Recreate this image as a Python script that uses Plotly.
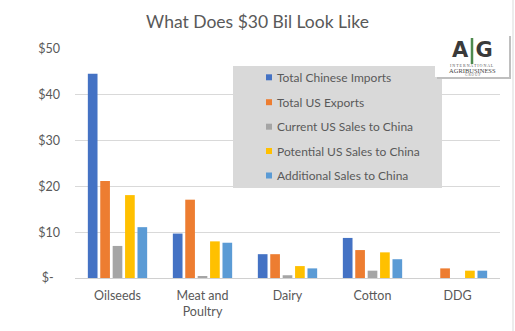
import plotly.graph_objects as go

categories = ["Oilseeds", "Meat and<br>Poultry", "Dairy", "Cotton", "DDG"]
series_names = ["Total Chinese Imports", "Total US Exports", "Current US Sales to China",
                "Potential US Sales to China", "Additional Sales to China"]
total_chinese_imports = [44.6, 9.7, 5.2, 8.75, 0]
total_us_exports = [21.2, 17.1, 5.2, 6.1, 2.1]
current_us_sales = [7.0, 0.4, 0.6, 1.6, 0]
potential_us_sales = [18.1, 8.0, 2.6, 5.6, 1.6]
additional_sales = [11.1, 7.7, 2.1, 4.1, 1.6]
series_values = [total_chinese_imports, total_us_exports, current_us_sales,
                 potential_us_sales, additional_sales]
colors = ["#4472C4", "#ED7D31", "#A5A5A5", "#FFC000", "#5B9BD5"]
y_ticks = [0, 10, 20, 30, 40, 50]
y_ticklabels = ["$-  ", "$10", "$20", "$30", "$40", "$50"]

W, H = 515, 331
L, R, T, B = 75, 500, 49, 278

def px_x(p):
    return (p - L) / (R - L)

def px_y(p):
    return (B - p) / (B - T)

fig = go.Figure()
for name, vals, c in zip(series_names, series_values, colors):
    fig.add_trace(go.Bar(x=categories, y=vals, name=name, marker_color=c,
                         marker_line_width=0, showlegend=False))

font_family = "Lato, 'Open Sans', sans-serif"
shapes = []
annotations = []

# legend box
shapes.append(dict(type="rect", xref="paper", yref="paper",
                   x0=px_x(233), x1=px_x(442), y0=px_y(188), y1=px_y(66),
                   fillcolor="#D9D9D9", line_width=0, layer="above"))
leg_y = [77.3, 102.2, 126.7, 151.0, 175.5]
for name, c, yy in zip(series_names, colors, leg_y):
    shapes.append(dict(type="rect", xref="paper", yref="paper",
                       x0=px_x(266), x1=px_x(272), y0=px_y(yy + 3), y1=px_y(yy - 3),
                       fillcolor=c, line_width=0, layer="above"))
    annotations.append(dict(text=name, xref="paper", yref="paper", x=px_x(275), y=px_y(yy),
                            xanchor="left", yanchor="middle", showarrow=False,
                            font=dict(family=font_family, size=12, color="#595959")))

# right border line
shapes.append(dict(type="line", xref="paper", yref="paper",
                   x0=px_x(513), x1=px_x(513), y0=px_y(331), y1=px_y(0),
                   line=dict(color="#D9D9D9", width=1)))

# logo
shapes.append(dict(type="rect", xref="paper", yref="paper",
                   x0=px_x(437), x1=px_x(511), y0=px_y(79), y1=px_y(36),
                   fillcolor="#BFBFBF", line_width=0, layer="above"))
shapes.append(dict(type="rect", xref="paper", yref="paper",
                   x0=px_x(435), x1=px_x(509), y0=px_y(77), y1=px_y(34),
                   fillcolor="white", line_width=0, layer="above"))
annotations.append(dict(text="<b>A G</b>", xref="paper", yref="paper", x=px_x(472), y=px_y(50),
                        xanchor="center", yanchor="middle", showarrow=False,
                        font=dict(family="DejaVu Sans", size=21, color="#3A3A3A")))
shapes.append(dict(type="line", xref="paper", yref="paper",
                   x0=px_x(472), x1=px_x(472), y0=px_y(64), y1=px_y(38),
                   line=dict(color="#4E8A4E", width=2.5), layer="above"))
annotations.append(dict(text="I N T E R N A T I O N A L", xref="paper", yref="paper",
                        x=px_x(472), y=px_y(66), xanchor="center", yanchor="middle",
                        showarrow=False,
                        font=dict(family="Liberation Serif", size=4, color="#555555")))
annotations.append(dict(text="AGRIBUSINESS", xref="paper", yref="paper",
                        x=px_x(472), y=px_y(70.5), xanchor="center", yanchor="middle",
                        showarrow=False,
                        font=dict(family="Liberation Serif", size=6.5, color="#444444")))
annotations.append(dict(text="G R O U P", xref="paper", yref="paper",
                        x=px_x(472), y=px_y(75), xanchor="center", yanchor="middle",
                        showarrow=False,
                        font=dict(family="Liberation Serif", size=3.5, color="#666666")))

fig.update_layout(
    width=W, height=H,
    margin=dict(l=L, r=W - R, t=T, b=H - B, autoexpand=False),
    paper_bgcolor="white", plot_bgcolor="white",
    barmode="group", bargap=0.27, bargroupgap=0.22,
    title=dict(text="What Does $30 Bil Look Like", x=0.5, xanchor="center",
               y=1 - 21.5 / H, yanchor="middle", yref="container",
               font=dict(family=font_family, size=17.5, color="#595959")),
    xaxis=dict(showgrid=False, showline=False, ticks="", ticklabelstandoff=8,
               tickfont=dict(family=font_family, size=12.5, color="#595959")),
    yaxis=dict(range=[0, 50], tickvals=y_ticks, ticktext=y_ticklabels,
               showgrid=True, gridcolor="#D9D9D9", gridwidth=1,
               zeroline=True, zerolinecolor="#D0D0D0", zerolinewidth=1,
               showline=False, ticks="", ticklabelstandoff=14,
               tickfont=dict(family=font_family, size=12.5, color="#595959")),
    shapes=shapes, annotations=annotations,
    showlegend=False,
)

fig.write_html("out.html")
